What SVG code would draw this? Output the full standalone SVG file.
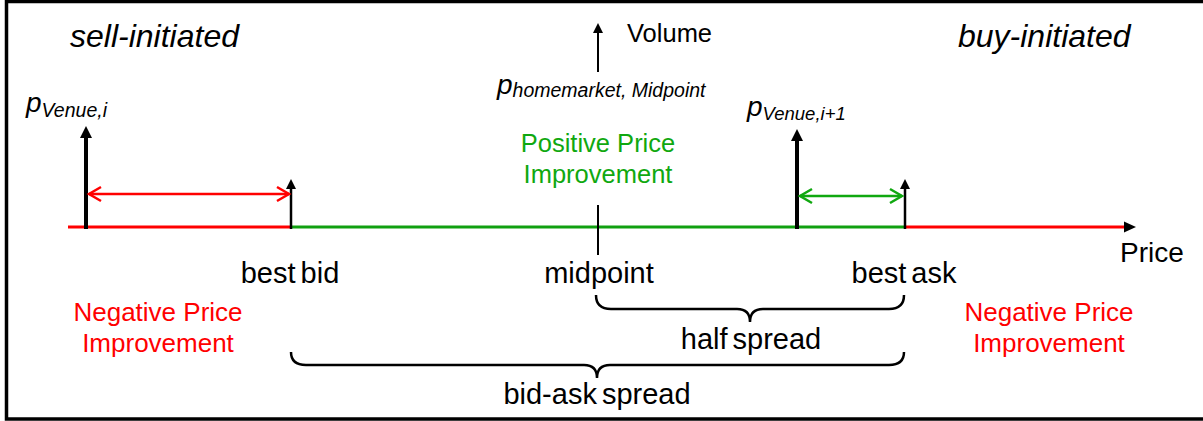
<svg xmlns="http://www.w3.org/2000/svg" width="1203" height="421" viewBox="0 0 1203 421">
<style>
text{font-family:"Liberation Sans",Arial,sans-serif;fill:#000}
.lbl{font-size:29px;word-spacing:-3px}
.it{font-style:italic}
.red{fill:#FF0000}
.grn{fill:#10A810}
.blk{stroke:#000;fill:none}
</style>
<defs>
<marker id="tri" markerUnits="userSpaceOnUse" markerWidth="12" markerHeight="12" viewBox="0 0 12 12" refX="1" refY="6" orient="auto" overflow="visible"><path d="M0,0 L12,6 L0,12 z" fill="#000"/></marker>
<marker id="triS" markerUnits="userSpaceOnUse" markerWidth="10" markerHeight="10" viewBox="0 0 10 10" refX="1" refY="5" orient="auto" overflow="visible"><path d="M0,0 L10,5 L0,10 z" fill="#000"/></marker>
<marker id="chevR" markerUnits="userSpaceOnUse" markerWidth="14" markerHeight="16" viewBox="0 0 14 16" refX="13" refY="8" orient="auto-start-reverse" overflow="visible"><path d="M1,1 L13,8 L1,15" fill="none" stroke="#FF0000" stroke-width="2.5"/></marker>
<marker id="chevG" markerUnits="userSpaceOnUse" markerWidth="14" markerHeight="16" viewBox="0 0 14 16" refX="13" refY="8" orient="auto-start-reverse" overflow="visible"><path d="M1,1 L13,8 L1,15" fill="none" stroke="#10A810" stroke-width="2.5"/></marker>
</defs>
<rect x="6.5" y="1.5" width="1260" height="417.5" fill="#fff" stroke="#000" stroke-width="3.5"/>

<g id="connectors">
<line x1="68" y1="227" x2="291" y2="227" stroke="#FF0000" stroke-width="3"/>
<line x1="291" y1="227" x2="905" y2="227" stroke="#10A010" stroke-width="3"/>
<line x1="905" y1="227" x2="1125" y2="227" stroke="#FF0000" stroke-width="3"/>
<path d="M1124,221.5 L1136,227 L1124,232.5 z" fill="#000"/>
<line x1="598" y1="72" x2="598" y2="32" class="blk" stroke-width="2" marker-end="url(#triS)"/>
<line x1="598" y1="205" x2="598" y2="255" class="blk" stroke-width="2"/>
<line x1="86" y1="229" x2="86" y2="137" class="blk" stroke-width="4" marker-end="url(#tri)"/>
<line x1="291" y1="229" x2="291" y2="188" class="blk" stroke-width="2.5" marker-end="url(#triS)"/>
<line x1="797" y1="229" x2="797" y2="140" class="blk" stroke-width="4" marker-end="url(#tri)"/>
<line x1="905" y1="229" x2="905" y2="188" class="blk" stroke-width="2.5" marker-end="url(#triS)"/>
<line x1="89" y1="194" x2="289" y2="194" stroke="#FF0000" stroke-width="2.5" marker-start="url(#chevR)" marker-end="url(#chevR)"/>
<line x1="800" y1="196" x2="902" y2="196" stroke="#10A810" stroke-width="2.5" marker-start="url(#chevG)" marker-end="url(#chevG)"/>
<path d="M596,295 Q596,309 611,309 L737,309 Q750,309 750,322 Q750,309 763,309 L889,309 Q904,309 904,295" class="blk" stroke-width="2.5"/>
<path d="M291,352 Q291,365 306,365 L584,365 Q597,365 597,378 Q597,365 610,365 L889,365 Q904,365 904,352" class="blk" stroke-width="2.5"/>
</g>

<g id="sell-initiated"><text x="70" y="47" font-size="32" class="it">sell-initiated</text></g>
<g id="buy-initiated"><text x="958" y="47" font-size="32" class="it">buy-initiated</text></g>
<g id="volume"><text x="627" y="42" font-size="25.5">Volume</text></g>
<g id="p-homemarket"><text x="497" y="94" font-size="28" class="it">p<tspan font-size="19.5" dy="3">homemarket, Midpoint</tspan></text></g>
<g id="p-venue-i"><text x="26" y="112" font-size="28" class="it">p<tspan font-size="19.5" dy="5">Venue,i</tspan></text></g>
<g id="p-venue-i1"><text x="747" y="116" font-size="28" class="it">p<tspan font-size="18.5" dy="4">Venue,i+1</tspan></text></g>
<g id="positive-pi"><text x="598" y="152" font-size="25.5" text-anchor="middle" class="grn">Positive Price</text><text x="598" y="183" font-size="25.5" text-anchor="middle" class="grn">Improvement</text></g>
<g id="price"><text x="1120" y="262" font-size="28">Price</text></g>
<g id="best-bid"><text x="290" y="283" class="lbl" text-anchor="middle">best bid</text></g>
<g id="midpoint"><text x="599" y="283" class="lbl" text-anchor="middle">midpoint</text></g>
<g id="best-ask"><text x="904" y="283" class="lbl" text-anchor="middle">best ask</text></g>
<g id="negative-pi-left"><text x="158" y="321" font-size="26" text-anchor="middle" class="red">Negative Price</text><text x="158" y="352" font-size="26" text-anchor="middle" class="red">Improvement</text></g>
<g id="negative-pi-right"><text x="1049" y="321" font-size="26" text-anchor="middle" class="red">Negative Price</text><text x="1049" y="352" font-size="26" text-anchor="middle" class="red">Improvement</text></g>
<g id="half-spread"><text x="751" y="349" class="lbl" text-anchor="middle">half spread</text></g>
<g id="bid-ask-spread"><text x="597" y="404" class="lbl" text-anchor="middle">bid-ask spread</text></g>
</svg>
